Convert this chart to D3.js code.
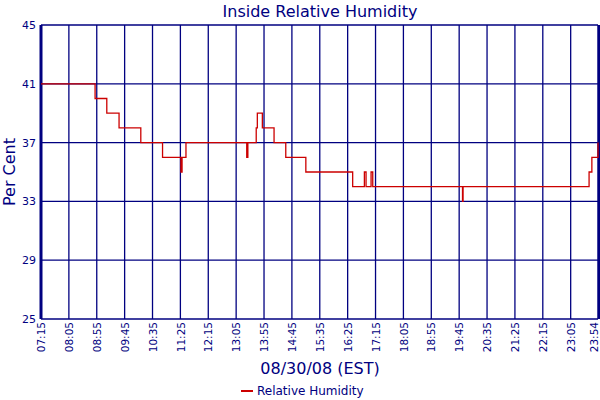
<!DOCTYPE html>
<html><head><meta charset="utf-8">
<script src="https://cdn.jsdelivr.net/npm/d3@7"></script>
<style>body{margin:0;background:#fff}svg{display:block}text{font-family:"DejaVu Sans",Verdana,sans-serif;fill:#000080}</style>
</head><body><svg id="c" width="600" height="400"></svg>
<script>
const title = "Inside Relative Humidity";
const yTitle = "Per Cent";
const xTitle = "08/30/08 (EST)";
const seriesName = "Relative Humidity";
const yTicks = [25, 29, 33, 37, 41, 45];
const xTickLabels = ["07:15","08:05","08:55","09:45","10:35","11:25","12:15","13:05","13:55","14:45","15:35","16:25","17:15","18:05","18:55","19:45","20:35","21:25","22:15","23:05","23:54"];
const times = ["07:15","08:52","09:13","09:35","10:14","10:53","11:26","11:28","11:35","13:24","13:26","13:41","13:43","13:52","14:13","14:34","15:10","16:34","16:55","16:58","17:07","17:10","19:51","19:52","23:38","23:43","23:54"];
const values = [41,40,39,38,37,36,35,36,37,36,37,38,39,38,37,36,35,34,35,34,35,34,33,34,35,36,37];

const parse = d3.timeParse("%H:%M");
const data = times.map((t,i)=>({t:parse(t), v:values[i]}));
const svg = d3.select("#c");
const L=41, R=598, T=25, B=319;
const x = d3.scaleTime().domain([parse("07:15"), parse("23:54")]).range([L,R]);
const y = d3.scaleLinear().domain([25,45]).range([B,T]);
const navy = "#000080";
const tickDates = xTickLabels.map(parse);

// grid
const g = svg.append("g");
g.selectAll(".hg").data(yTicks).enter().append("line")
  .attr("x1",L).attr("x2",R).attr("y1",d=>y(d)).attr("y2",d=>y(d))
  .attr("stroke",navy).attr("stroke-width",1.3);
g.selectAll(".vg").data(tickDates).enter().append("line")
  .attr("x1",d=>x(d)).attr("x2",d=>x(d)).attr("y1",T).attr("y2",B)
  .attr("stroke",navy).attr("stroke-width",1.3);
// thick left and right edges
g.append("line").attr("x1",L).attr("x2",L).attr("y1",T).attr("y2",B).attr("stroke",navy).attr("stroke-width",3);
g.append("line").attr("x1",R+1).attr("x2",R+1).attr("y1",T).attr("y2",B).attr("stroke",navy).attr("stroke-width",2.5);

// y axis labels
const yAxis = d3.axisLeft(y).tickValues(yTicks).tickSize(0).tickPadding(5).tickFormat(d3.format("d"));
const ya = svg.append("g").attr("transform",`translate(${L},0)`).call(yAxis);
ya.select(".domain").remove();
ya.selectAll("text").style("font-size","11px").attr("fill",navy);

// x axis labels
const xAxis = d3.axisBottom(x).tickValues(tickDates).tickSize(0).tickFormat((d,i)=>xTickLabels[i]);
const xa = svg.append("g").attr("transform",`translate(0,${B})`).call(xAxis);
xa.select(".domain").remove();
xa.selectAll("text").style("font-size","10.5px").attr("fill",navy)
  .attr("transform","rotate(-90)").attr("text-anchor","end")
  .attr("x",-3).attr("y",0).attr("dy",(d,i)=> i===xTickLabels.length-1 ? "-0.05em" : "0.35em");

// line
const line = d3.line().x(d=>x(d.t)).y(d=>y(d.v)).curve(d3.curveStepAfter);
svg.append("path").datum(data).attr("d",line).attr("fill","none")
  .attr("stroke","#cc0000").attr("stroke-width",1.3);

// titles
svg.append("text").attr("x",320).attr("y",17).attr("text-anchor","middle").style("font-size","16px").text(title);
svg.append("text").attr("transform","translate(15,172) rotate(-90)").attr("text-anchor","middle").style("font-size","16px").text(yTitle);
svg.append("text").attr("x",320).attr("y",374).attr("text-anchor","middle").style("font-size","16px").text(xTitle);
// legend
svg.append("line").attr("x1",241).attr("x2",253).attr("y1",391).attr("y2",391).attr("stroke","#cc0000").attr("stroke-width",2);
svg.append("text").attr("x",257).attr("y",395).style("font-size","12px").text(seriesName);
</script></body></html>
